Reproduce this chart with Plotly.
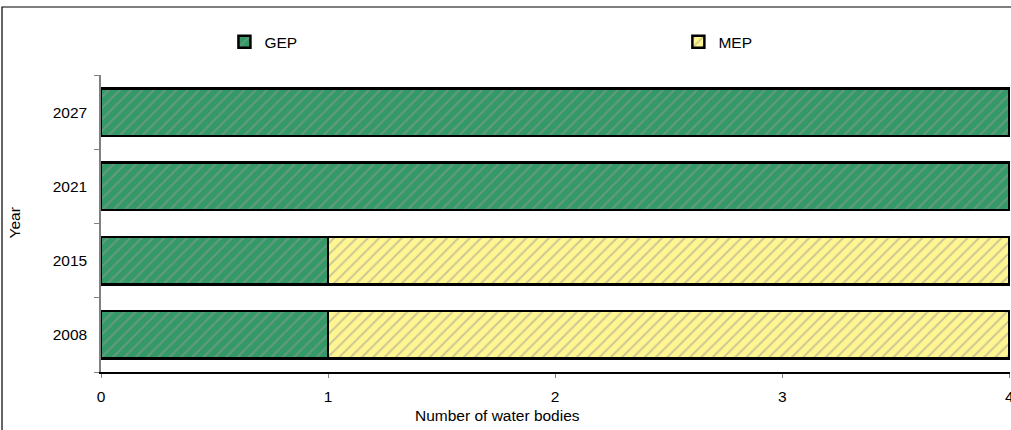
import plotly.graph_objects as go

years = ["2008", "2015", "2021", "2027"]
gep = [1, 1, 4, 4]
mep = [3, 3, 0, 0]
series_names = ["GEP", "MEP"]
x_ticks = [0, 1, 2, 3, 4]

FONT = "Liberation Sans, Arial, sans-serif"
FS = 15.5

GREEN = "#339966"
YELLOW = "#FFF591"
HATCH = "#999999"

fig = go.Figure()
fig.add_trace(go.Bar(
    y=years, x=gep, name=series_names[0], orientation="h", legend="legend",
    marker=dict(color=GREEN, line=dict(color="black", width=2.5),
                pattern=dict(shape="/", fgcolor=HATCH, bgcolor=GREEN,
                             size=8, solidity=0.25, fillmode="overlay")),
))
fig.add_trace(go.Bar(
    y=years, x=mep, name=series_names[1], orientation="h", legend="legend2",
    marker=dict(color=YELLOW, line=dict(color="black", width=2.5),
                pattern=dict(shape="/", fgcolor=HATCH, bgcolor=YELLOW,
                             size=8, solidity=0.25, fillmode="overlay")),
))

legend_common = dict(orientation="h", xref="container", yref="container",
                     y=0.902, xanchor="left", yanchor="middle",
                     bgcolor="rgba(0,0,0,0)",
                     font=dict(family=FONT, size=FS, color="black"))

fig.update_layout(
    width=1011, height=430,
    barmode="stack", bargap=0.36,
    margin=dict(l=101, r=1, t=75, b=58, autoexpand=False),
    paper_bgcolor="white", plot_bgcolor="white",
    font=dict(family=FONT, size=FS, color="black"),
    showlegend=True,
    legend=dict(x=0.222, **legend_common),
    legend2=dict(x=0.671, **legend_common),
    xaxis=dict(range=[0, 4.003], tickvals=x_ticks, ticktext=[str(v) for v in x_ticks],
               showgrid=False, zeroline=False,
               showline=True, linecolor="black", linewidth=1.5,
               ticks="outside", ticklen=4, tickcolor="#808080", tickwidth=1,
               ticklabelstandoff=6, ticklabeloverflow="allow",
               tickfont=dict(size=FS), automargin=False,
               fixedrange=True),
    yaxis=dict(categoryorder="array", categoryarray=years,
               showgrid=False, zeroline=False,
               showline=True, linecolor="#808080", linewidth=1.5,
               ticks="outside", ticklen=5, tickcolor="#808080", tickson="boundaries",
               ticklabelstandoff=9,
               tickfont=dict(size=FS), automargin=False,
               fixedrange=True),
    annotations=[
        dict(text="Number of water bodies", xref="paper", yref="paper",
             x=0.4367, y=-0.145, xanchor="center", yanchor="middle",
             showarrow=False, font=dict(family=FONT, size=FS, color="black")),
        dict(text="Year", xref="paper", yref="paper",
             x=-0.0957, y=0.5, xanchor="center", yanchor="middle",
             textangle=-90, showarrow=False,
             font=dict(family=FONT, size=FS, color="black")),
    ],
)

# outer chart border
fig.add_shape(type="rect", xref="paper", yref="paper",
              x0=-0.1089, x1=1.01, y0=-0.22, y1=1.229,
              line=dict(color="black", width=1.2), fillcolor="rgba(0,0,0,0)",
              layer="below")

fig.write_html("out.html", config={"displayModeBar": False},
               post_script="document.body.style.margin='0';")
